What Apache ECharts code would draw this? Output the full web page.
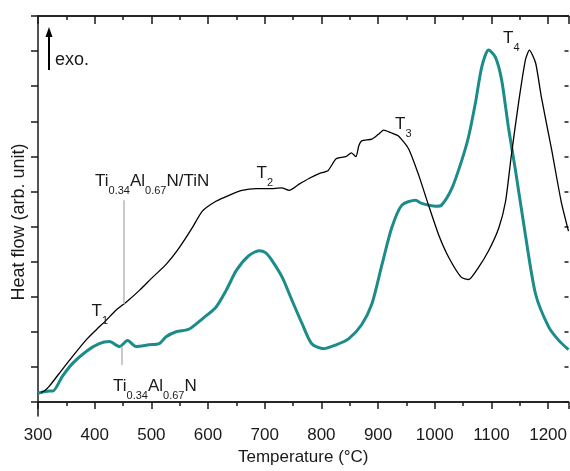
<!DOCTYPE html>
<html>
<head>
<meta charset="utf-8">
<script src="https://cdn.jsdelivr.net/npm/echarts@6/dist/echarts.min.js"></script>
<style>html,body{margin:0;padding:0;background:#fff}#c{width:570px;height:471px}</style>
</head>
<body>
<div id="c"></div>
<script>
// Ti0.34Al0.67N/TiN (black)
const blackT = [305,311,320,343,361,385,403,421,438,456,479,502,526,549,572,590,614,637,660,685,708,730,743,760,778,796,812,826,843,853,861,866,871,889,900,910,922,936,954,972,989,1007,1025,1047,1060,1077,1095,1113,1125,1135,1148,1160,1167,1178,1188,1206,1223,1236];
const blackH = [0.27,0.31,0.45,0.93,1.30,1.77,2.06,2.34,2.62,2.85,3.18,3.55,3.92,4.39,4.96,5.44,5.72,5.89,6.03,6.08,6.08,6.10,6.03,6.20,6.37,6.51,6.60,6.93,6.99,7.10,6.99,7.30,7.44,7.49,7.62,7.75,7.68,7.58,7.21,6.45,5.61,4.76,4.11,3.55,3.49,3.83,4.31,4.96,5.72,7.01,8.54,9.75,10.03,9.66,8.70,7.21,5.72,4.87];
// Ti0.34Al0.67N (teal)
const tealT = [300,320,326,343,361,385,408,426,444,458,473,496,514,526,544,567,590,614,632,650,672,690,702,713,731,748,766,783,804,826,848,871,889,907,924,942,966,977,1002,1012,1030,1047,1060,1072,1083,1095,1107,1118,1130,1142,1160,1178,1201,1218,1236];
const tealH = [0.25,0.31,0.31,0.73,1.10,1.44,1.66,1.72,1.58,1.75,1.58,1.63,1.66,1.86,2.00,2.08,2.37,2.70,3.18,3.75,4.17,4.31,4.25,4.03,3.55,2.90,2.23,1.66,1.52,1.63,1.80,2.20,2.79,3.92,4.96,5.61,5.75,5.66,5.58,5.61,6.08,6.85,7.58,8.54,9.55,10.03,9.83,9.18,7.83,6.65,4.76,3.07,2.14,1.77,1.49];
const xTicks = [300,400,500,600,700,800,900,1000,1100,1200];
const yTicks = [0,1,2,3,4,5,6,7,8,9,10,11];

const FONT = '"Liberation Sans", Arial, Helvetica, sans-serif';
const AX = '#1a1a1a';
const chart = echarts.init(document.getElementById('c'));
const zip = (a, b) => a.map((v, i) => [v, b[i]]);

const baseX = {
  type: 'value', min: 300, max: 1236, splitLine: {show: false},
  axisLine: {show: true, lineStyle: {color: AX, width: 1.5}},
  axisLabel: {show: false}
};
const baseY = {
  type: 'value', min: -0.4, max: 11, splitLine: {show: false},
  axisLine: {show: true, lineStyle: {color: AX, width: 1.5}},
  axisLabel: {show: false}
};

const rich = {
  m: {fontSize: 17, fontFamily: FONT, color: '#1a1a1a', lineHeight: 30},
  s: {fontSize: 11, fontFamily: FONT, color: '#1a1a1a', verticalAlign: 'bottom', lineHeight: 10}
};
function lab(x, y, text) {
  return {type: 'text', left: x, top: y + 8, style: {text: text, rich: rich, fill: '#1a1a1a'}, z: 10};
}

chart.setOption({
  animation: false,
  backgroundColor: '#fff',
  grid: {left: 38, top: 16, right: 0, bottom: 51},
  xAxis: [
    Object.assign({}, baseX, {
      position: 'bottom', interval: 100,
      axisTick: {show: true, inside: false, length: 7, lineStyle: {color: AX, width: 1.5}},
      axisLabel: {show: true, fontSize: 17, fontFamily: FONT, color: '#1a1a1a', margin: 11,
        customValues: xTicks, formatter: function (v) { return String(v); }},
      name: 'Temperature (°C)', nameLocation: 'middle', nameGap: 33,
      nameTextStyle: {fontSize: 17, fontFamily: FONT, color: '#1a1a1a'}
    }),
    Object.assign({}, baseX, {
      position: 'bottom', interval: 50,
      axisTick: {show: true, inside: false, length: 4, lineStyle: {color: AX, width: 1.5}}
    }),
    Object.assign({}, baseX, {
      position: 'top', interval: 100,
      axisTick: {show: true, inside: true, length: 8, lineStyle: {color: AX, width: 1.5}}
    }),
    Object.assign({}, baseX, {
      position: 'top', interval: 50,
      axisTick: {show: true, inside: true, length: 4, lineStyle: {color: AX, width: 1.5}}
    })
  ],
  yAxis: [
    Object.assign({}, baseY, {
      position: 'left',
      axisTick: {show: true, inside: false, length: 7, customValues: yTicks, lineStyle: {color: AX, width: 1.5}}
    }),
    Object.assign({}, baseY, {
      position: 'right',
      axisLine: {show: false},
      axisTick: {show: true, inside: true, length: 4, customValues: yTicks, lineStyle: {color: AX, width: 1.5}}
    })
  ],
  series: [
    {
      name: 'Ti0.34Al0.67N', type: 'line', xAxisIndex: 0, yAxisIndex: 0,
      data: zip(tealT, tealH), showSymbol: false, smooth: 0.25,
      lineStyle: {color: '#1b8c89', width: 3}, itemStyle: {color: '#1b8c89'},
      markLine: {
        silent: true, symbol: 'none', label: {show: false},
        lineStyle: {color: '#b8b8b8', width: 1.5, type: 'solid'},
        data: [
          [{coord: [452, 5.75]}, {coord: [452, 2.79]}],
          [{coord: [448, 1.58]}, {coord: [448, 1.05]}]
        ]
      }
    },
    {
      name: 'Ti0.34Al0.67N/TiN', type: 'line', xAxisIndex: 0, yAxisIndex: 0,
      data: zip(blackT, blackH), showSymbol: false, smooth: 0.2,
      lineStyle: {color: '#000', width: 1.3}, itemStyle: {color: '#000'}
    }
  ],
  graphic: [
    {type: 'text', x: 19, y: 222, rotation: Math.PI / 2,
      style: {text: 'Heat flow (arb. unit)', fontSize: 18, fontFamily: FONT, fill: '#1a1a1a', align: 'center', verticalAlign: 'middle'}},
    {type: 'line', shape: {x1: 49, y1: 70, x2: 49, y2: 34}, style: {stroke: '#000', lineWidth: 2}},
    {type: 'polygon', shape: {points: [[49, 27], [45.5, 37], [52.5, 37]]}, style: {fill: '#000'}},
    {type: 'text', x: 55, y: 60, style: {text: 'exo.', fontSize: 18, fontFamily: FONT, fill: '#1a1a1a', verticalAlign: 'middle'}},
    lab(95, 165, '{m|Ti}{s|0.34}{m|Al}{s|0.67}{m|N/TiN}'),
    lab(113, 370, '{m|Ti}{s|0.34}{m|Al}{s|0.67}{m|N}'),
    lab(91.5, 295, '{m|T}{s|1}'),
    lab(256.5, 156.5, '{m|T}{s|2}'),
    lab(395, 108, '{m|T}{s|3}'),
    lab(503, 21.7, '{m|T}{s|4}')
  ]
});
</script>
</body>
</html>
